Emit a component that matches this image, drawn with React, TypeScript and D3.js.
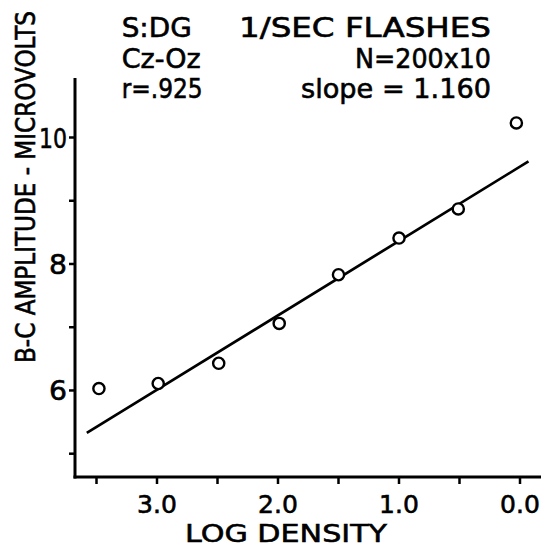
import React from "react";
import * as d3 from "d3";

// ---- data ----
const logDensity = [3.48, 2.99, 2.49, 1.99, 1.5, 1.0, 0.51, 0.03];
const amplitude = [6.03, 6.11, 6.43, 7.06, 7.83, 8.41, 8.87, 10.23];
const fitIntercept = 9.54; // amplitude at log density 0
const fitSlope = 1.176; // drop per log unit
const fitRange = [3.58, -0.07];
const xTicks = [3.5, 3.0, 2.5, 2.0, 1.5, 1.0, 0.5, 0.0];
const xTickLabels = [3.0, 2.0, 1.0, 0.0];
const yTicks = [5, 6, 7, 8, 9, 10];
const yTickLabels = [6, 8, 10];
const infoLeft = ["S:DG", "Cz-Oz", "r=.925"];
const infoRight = ["1/SEC  FLASHES", "N=200x10", "slope = 1.160"];

const W = 541;
const H = 547;
const FONT = "'DejaVu Sans', sans-serif";

export default function App() {
  const x = d3.scaleLinear().domain([3, 0]).range([157, 520]);
  const y = d3.scaleLinear().domain([5, 10]).range([453.7, 137.5]);
  const axisX = 75;
  const axisY = 477;
  const fit = fitRange.map((v) => [v, fitIntercept - fitSlope * v] as [number, number]);
  const line = d3
    .line<[number, number]>()
    .x((d) => x(d[0]))
    .y((d) => y(d[1]));

  const leftLens = [70, 79, 81];
  const rightLens = [252, 136, 190];
  const baselines = [37, 68, 98];
  const textStroke = { stroke: "#000", strokeWidth: 0.6 };

  return (
    <svg
      width={W}
      height={H}
      style={{ position: "absolute", left: 0, top: 0, background: "#fff" }}
      fontFamily={FONT}
    >
      <rect x={0} y={0} width={W} height={H} fill="#fff" />
      {/* axes */}
      <line x1={axisX} y1={78} x2={axisX} y2={axisY + 1.5} stroke="#000" strokeWidth={3} />
      <line x1={axisX - 1.5} y1={axisY} x2={W} y2={axisY} stroke="#000" strokeWidth={3} />
      {yTicks.map((t) => (
        <line key={"yt" + t} x1={axisX - 6} x2={axisX} y1={y(t)} y2={y(t)} stroke="#000" strokeWidth={2.5} />
      ))}
      {xTicks.map((t) => (
        <line key={"xt" + t} x1={x(t)} x2={x(t)} y1={axisY} y2={axisY + 7} stroke="#000" strokeWidth={2.5} />
      ))}
      {yTickLabels.map((t) => (
        <text
          key={"yl" + t}
          x={67}
          y={y(t) + 10}
          fontSize={27}
          textAnchor="end"
          textLength={String(t).length > 1 ? 28 : 18}
          lengthAdjust="spacingAndGlyphs"
          {...textStroke}
        >
          {t}
        </text>
      ))}
      {xTickLabels.map((t) => (
        <text key={"xl" + t} x={x(t)} y={513} fontSize={25} textAnchor="middle" {...textStroke}>
          {t.toFixed(1)}
        </text>
      ))}
      <text
        x={286}
        y={542}
        fontSize={25}
        textAnchor="middle"
        textLength={202}
        lengthAdjust="spacingAndGlyphs"
        {...textStroke}
      >
        LOG DENSITY
      </text>
      <text
        transform={`translate(35,187) rotate(-90)`}
        fontSize={27}
        textAnchor="middle"
        textLength={352}
        lengthAdjust="spacingAndGlyphs"
        {...textStroke}
      >
        B-C AMPLITUDE - MICROVOLTS
      </text>
      {/* info text */}
      {infoLeft.map((s, i) => (
        <text
          key={"il" + i}
          x={121.7}
          y={baselines[i]}
          fontSize={27}
          textLength={leftLens[i]}
          lengthAdjust="spacingAndGlyphs"
          {...textStroke}
        >
          {s}
        </text>
      ))}
      {infoRight.map((s, i) => (
        <text
          key={"ir" + i}
          x={491 - rightLens[i]}
          y={baselines[i]}
          fontSize={27}
          textLength={rightLens[i]}
          lengthAdjust="spacingAndGlyphs"
          {...textStroke}
        >
          {s}
        </text>
      ))}
      {/* regression line */}
      <path d={line(fit) || ""} fill="none" stroke="#000" strokeWidth={2.7} />
      {/* points */}
      {logDensity.map((v, i) => (
        <circle key={"p" + i} cx={x(v)} cy={y(amplitude[i])} r={5.6} fill="#fff" stroke="#000" strokeWidth={2.4} />
      ))}
    </svg>
  );
}
